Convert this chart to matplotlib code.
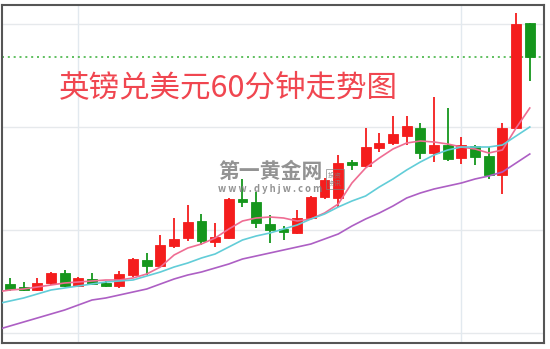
import numpy as np
import matplotlib
matplotlib.use("Agg")
from matplotlib import pyplot as plt

# GBP/USD 60-minute bars
opens = [1.28280, 1.28245, 1.28230, 1.28215, 1.28250, 1.28300, 1.28235, 1.28270, 1.28250, 1.28235,
         1.28290, 1.28365, 1.28335, 1.28435, 1.28475, 1.28560, 1.28455, 1.28475, 1.28670, 1.28655,
         1.28545, 1.28520, 1.28500, 1.28575, 1.28680, 1.28675, 1.28855, 1.28835, 1.28925, 1.28950,
         1.28985, 1.29025, 1.28900, 1.28940, 1.28875, 1.28935, 1.28885, 1.28790, 1.29025, 1.29550]
highs = [1.28305, 1.28275, 1.28255, 1.28275, 1.28305, 1.28315, 1.28280, 1.28300, 1.28260, 1.28310,
         1.28375, 1.28400, 1.28490, 1.28575, 1.28640, 1.28595, 1.28550, 1.28675, 1.28770, 1.28705,
         1.28590, 1.28535, 1.28615, 1.28685, 1.28775, 1.28890, 1.28865, 1.29025, 1.29000, 1.29085,
         1.29085, 1.29050, 1.29180, 1.29125, 1.28980, 1.28940, 1.28930, 1.29050, 1.29600, 1.29550]
lows = [1.28230, 1.28210, 1.28210, 1.28210, 1.28240, 1.28230, 1.28230, 1.28240, 1.28230, 1.28225,
        1.28280, 1.28290, 1.28330, 1.28425, 1.28460, 1.28440, 1.28430, 1.28470, 1.28630, 1.28525,
        1.28450, 1.28465, 1.28495, 1.28570, 1.28670, 1.28630, 1.28815, 1.28830, 1.28905, 1.28940,
        1.28940, 1.28870, 1.28855, 1.28860, 1.28845, 1.28840, 1.28770, 1.28695, 1.29025, 1.29260]
closes = [1.28245, 1.28220, 1.28215, 1.28250, 1.28300, 1.28235, 1.28275, 1.28245, 1.28235, 1.28295,
          1.28370, 1.28335, 1.28440, 1.28470, 1.28555, 1.28460, 1.28480, 1.28670, 1.28655, 1.28550,
          1.28515, 1.28505, 1.28575, 1.28680, 1.28765, 1.28850, 1.28840, 1.28930, 1.28950, 1.28995,
          1.29035, 1.28900, 1.28940, 1.28870, 1.28940, 1.28880, 1.28790, 1.29025, 1.29545, 1.29380]

ma_fast = [1.28205, 1.28215, 1.28220, 1.28230, 1.28240, 1.28250, 1.28255, 1.28260, 1.28265, 1.28265,
           1.28275, 1.28295, 1.28330, 1.28390, 1.28425, 1.28445, 1.28475, 1.28520, 1.28560, 1.28575,
           1.28580, 1.28575, 1.28560, 1.28570, 1.28600, 1.28645, 1.28750, 1.28825, 1.28875, 1.28920,
           1.28950, 1.28960, 1.28955, 1.28945, 1.28930, 1.28920, 1.28900, 1.28915, 1.29025, 1.29125]
ma_mid = [1.28145, 1.28160, 1.28175, 1.28195, 1.28215, 1.28225, 1.28235, 1.28245, 1.28255, 1.28260,
          1.28265, 1.28285, 1.28305, 1.28330, 1.28350, 1.28375, 1.28395, 1.28430, 1.28465, 1.28485,
          1.28500, 1.28520, 1.28540, 1.28570, 1.28595, 1.28630, 1.28660, 1.28685, 1.28730, 1.28770,
          1.28815, 1.28855, 1.28890, 1.28915, 1.28930, 1.28930, 1.28930, 1.28940, 1.28985, 1.29030]
ma_slow = [1.28015, 1.28035, 1.28055, 1.28075, 1.28095, 1.28115, 1.28140, 1.28165, 1.28175, 1.28190,
           1.28205, 1.28220, 1.28245, 1.28270, 1.28290, 1.28305, 1.28325, 1.28345, 1.28370, 1.28385,
           1.28400, 1.28415, 1.28430, 1.28445, 1.28470, 1.28495, 1.28535, 1.28570, 1.28600, 1.28635,
           1.28675, 1.28700, 1.28720, 1.28735, 1.28750, 1.28770, 1.28785, 1.28805, 1.28850, 1.28895]

price_grid = [1.28000, 1.28515, 1.29030, 1.29545]
session_breaks = [6, 34]
title = "英镑兑美元60分钟走势图"

UP = "#f41d1d"
DOWN = "#15961c"

fig = plt.figure(figsize=(5.5, 3.49), dpi=100)
ax = fig.add_axes([2 / 550, 6 / 349, 542 / 550, 338.5 / 349])

x = np.arange(len(opens))
o = np.array(opens)
c = np.array(closes)
up = c >= o
colors = np.where(up, UP, DOWN)

for p in price_grid:
    ax.axhline(p, color="#e6e9ec", linewidth=1.0, zorder=0)
for b in session_breaks:
    ax.axvline(b, color="#e2e9ef", linewidth=1.0, zorder=0)

ax.vlines(x, lows, highs, colors=colors, linewidth=1.3, zorder=2)
ax.bar(x, np.abs(c - o), bottom=np.minimum(o, c), width=0.72, color=colors,
       edgecolor=colors, linewidth=0.6, zorder=3)

ax.plot(x, ma_fast, color="#ef6d93", linewidth=1.2, zorder=4)
ax.plot(x, ma_mid, color="#62cdd8", linewidth=1.2, zorder=4)
ax.plot(x, ma_slow, color="#ad5fc4", linewidth=1.2, zorder=4)

# last close marker line
ax.axhline(closes[-1], color="#45b545", linewidth=1.2, linestyle=(0, (1.2, 2.3)), zorder=1)

ax.set_xlim(0.42, 40.04)
ax.set_ylim(1.27950, 1.296425)
ax.set_xticks([])
ax.set_yticks([])
for s in ax.spines.values():
    s.set_color("#555555")
    s.set_linewidth(1.5)

cjk = ["Noto Sans CJK SC", "DejaVu Sans"]
ax.text(0.417, 0.753, title, transform=ax.transAxes, ha="center", va="center",
        fontsize=22, color="#f04650", family=cjk, fontweight="light", zorder=6)

# faint site watermark
wm = "#808080"
ax.text(0.495, 0.508, "第一黄金网", transform=ax.transAxes, ha="center", va="center",
        fontsize=15, color=wm, family=cjk, fontweight="bold", alpha=0.85, zorder=6)
ax.text(0.495, 0.455, "w w w . d y h j w . c o m", transform=ax.transAxes, ha="center", va="center",
        fontsize=6.8, color=wm, family=cjk, fontweight="bold", alpha=0.85, zorder=6)
ax.text(0.614, 0.484, "投资\n资讯", transform=ax.transAxes, ha="center", va="center",
        fontsize=5, color=wm, family=cjk, alpha=0.8, linespacing=1.1, zorder=6,
        bbox=dict(boxstyle="square,pad=0.25", facecolor="none", edgecolor=wm, linewidth=0.6, alpha=0.8))

fig.savefig("out.png", dpi=100)
plt.close(fig)
